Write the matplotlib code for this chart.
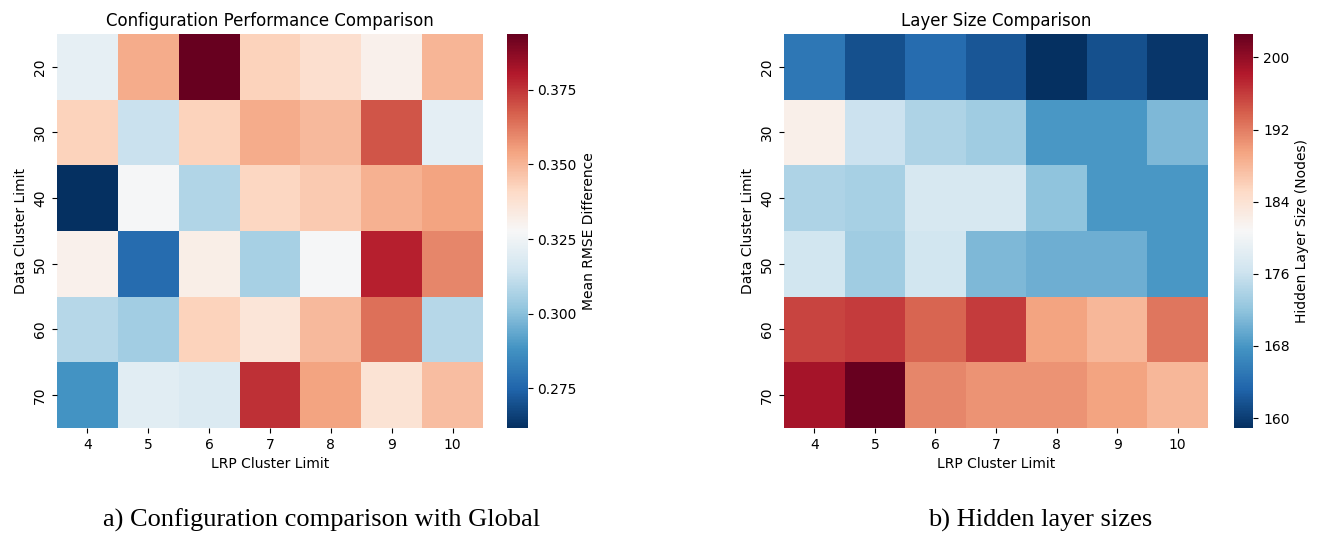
import numpy as np
import matplotlib
matplotlib.use("Agg")
import matplotlib.pyplot as plt
import seaborn as sns

lrp_limits = [4, 5, 6, 7, 8, 9, 10]
data_limits = [20, 30, 40, 50, 60, 70]

# mean RMSE difference (rows = data cluster limit, cols = LRP cluster limit)
rmse_diff = np.array([
    [0.322, 0.352, 0.3937, 0.343, 0.339, 0.331, 0.350],
    [0.343, 0.313, 0.343, 0.352, 0.349, 0.369, 0.321],
    [0.2617, 0.327, 0.308, 0.342, 0.345, 0.351, 0.354],
    [0.331, 0.277, 0.332, 0.306, 0.327, 0.379, 0.360],
    [0.309, 0.305, 0.343, 0.336, 0.349, 0.364, 0.309],
    [0.288, 0.320, 0.318, 0.376, 0.354, 0.337, 0.348],
])
rmse_ticks = [0.275, 0.300, 0.325, 0.350, 0.375]

# hidden layer size (nodes)
layer_size = np.array([
    [165.0, 161.5, 164.0, 162.0, 158.9, 161.5, 159.5],
    [182.0, 176.0, 174.0, 173.0, 168.0, 168.0, 171.0],
    [174.0, 173.5, 177.0, 177.0, 172.0, 168.0, 168.0],
    [176.5, 173.0, 176.5, 171.0, 170.0, 170.0, 168.0],
    [195.5, 196.0, 193.5, 196.0, 189.5, 188.0, 192.5],
    [199.0, 202.6, 191.5, 190.5, 190.5, 189.5, 188.0],
])
size_ticks = [160, 168, 176, 184, 192, 200]

fig = plt.figure(figsize=(13.23, 5.34), dpi=100)

ax1 = fig.add_axes([0.0431, 0.1985, 0.322, 0.738])
cax1 = fig.add_axes([0.3833, 0.1985, 0.0155, 0.738])
ax2 = fig.add_axes([0.5926, 0.1985, 0.3205, 0.738])
cax2 = fig.add_axes([0.9327, 0.1985, 0.0147, 0.738])

sns.heatmap(rmse_diff, ax=ax1, cbar_ax=cax1, cmap="RdBu_r",
            xticklabels=lrp_limits, yticklabels=data_limits,
            cbar_kws={"label": "Mean RMSE Difference"})
ax1.set_title("Configuration Performance Comparison")
ax1.set_xlabel("LRP Cluster Limit")
ax1.set_ylabel("Data Cluster Limit")
ax1.set_yticklabels(data_limits, rotation=90, va="center")
ax1.set_xticklabels(lrp_limits, rotation=0)
cax1.set_yticks(rmse_ticks)
cax1.set_yticklabels(["%.3f" % t for t in rmse_ticks])

sns.heatmap(layer_size, ax=ax2, cbar_ax=cax2, cmap="RdBu_r",
            xticklabels=lrp_limits, yticklabels=data_limits,
            cbar_kws={"label": "Hidden Layer Size (Nodes)"})
ax2.set_title("Layer Size Comparison")
ax2.set_xlabel("LRP Cluster Limit")
ax2.set_ylabel("Data Cluster Limit")
ax2.set_yticklabels(data_limits, rotation=90, va="center")
ax2.set_xticklabels(lrp_limits, rotation=0)
cax2.set_yticks(size_ticks)

# subfigure captions (paper style, serif)
fig.text(322 / 1323, 1 - 520 / 534, "a) Configuration comparison with Global",
         family="Liberation Serif", fontsize=19, ha="center", va="center")
fig.text(1040 / 1323, 1 - 520 / 534, "b) Hidden layer sizes",
         family="Liberation Serif", fontsize=19, ha="center", va="center")

fig.savefig("out.png", dpi=100)
